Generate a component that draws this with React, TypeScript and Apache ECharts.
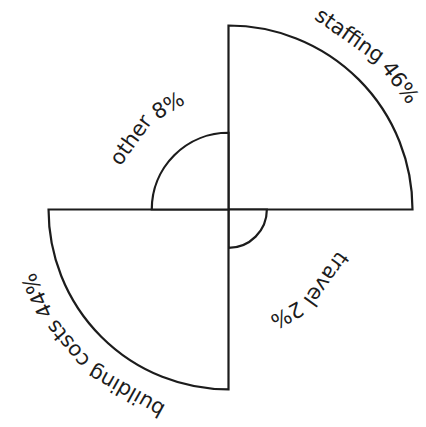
import React, { useEffect, useRef } from "react";
import * as echarts from "echarts";

const categories = ["staffing", "travel", "building costs", "other"];
const values = [46, 2, 44, 8];
const labels = ["staffing 46%", "travel 2%", "building costs 44%", "other 8%"];

const FONT_SIZE = 21;
const FONT = `${FONT_SIZE}px 'DejaVu Sans', sans-serif`;
const STROKE = "#1c1c1c";
const W = 426;
const H = 427;

function makeMeasurer() {
  const cv = document.createElement("canvas");
  const ctx = cv.getContext("2d")!;
  ctx.font = FONT;
  return (t: string) => ctx.measureText(t).width;
}

export default function App() {
  const ref = useRef<HTMLDivElement>(null);
  useEffect(() => {
    if (!ref.current) return;
    const chart = echarts.init(ref.current, null, { renderer: "svg" });
    const measure = makeMeasurer();
    const maxR = Math.sqrt(Math.max(...values));
    const option: any = {
      animation: false,
      backgroundColor: "#ffffff",
      polar: { center: [228.5, 209.5], radius: 184 },
      angleAxis: { type: "value", min: 0, max: 360, startAngle: 90, clockwise: true, show: false },
      radiusAxis: { type: "value", min: 0, max: maxR, show: false },
      series: [
        {
          type: "custom",
          coordinateSystem: "polar",
          data: values.map((v, i) => [v, i]),
          renderItem: (params: any, api: any) => {
            const v = api.value(0);
            const i = api.value(1);
            const c = api.coord([0, 0]);
            const e = api.coord([Math.sqrt(v), 0]);
            const r = Math.hypot(e[0] - c[0], e[1] - c[1]);
            const start = -Math.PI / 2 + (i * Math.PI) / 2;
            const end = start + Math.PI / 2;
            const mid = (start + end) / 2;
            const text = labels[i];
            const lr = Math.max(r + 30, 121);
            const words = text.split(" ");
            const spaceW = measure(" ");
            const totalW = measure(text);
            const span = totalW / lr;

            const layout = (shift: number) => {
              let pos = 0;
              return words.map((w) => {
                const ww = measure(w);
                const centerS = pos + ww / 2;
                pos += ww + spaceW;
                const ang = mid + shift - span / 2 + centerS / lr;
                const rr = lr - (ww * ww) / (24 * lr);
                const x = c[0] + rr * Math.cos(ang);
                const y = c[1] + rr * Math.sin(ang);
                const rot = -(ang + Math.PI / 2);
                const hx = (ww / 2) * Math.abs(Math.cos(rot)) + FONT_SIZE * 0.6 * Math.abs(Math.sin(rot));
                const hy = (ww / 2) * Math.abs(Math.sin(rot)) + FONT_SIZE * 0.6 * Math.abs(Math.cos(rot));
                const inside = x - hx >= 1 && x + hx <= W - 1 && y - hy >= 1 && y + hy <= H - 1;
                return { w, x, y, rot, inside };
              });
            };
            let placed = layout(0);
            for (let k = 1; k <= 16 && placed.some((p) => !p.inside); k++) {
              const d = (k * 0.5 * Math.PI) / 180;
              const a = layout(-d);
              if (a.every((p) => p.inside)) { placed = a; break; }
              const b = layout(d);
              if (b.every((p) => p.inside)) { placed = b; break; }
            }

            const children: any[] = [
              {
                type: "sector",
                shape: { cx: c[0], cy: c[1], r0: 0, r, startAngle: start, endAngle: end, clockwise: true },
                style: { fill: "#ffffff", stroke: STROKE, lineWidth: 2.2 },
              },
            ];
            placed.forEach((p) => {
              children.push({
                type: "text",
                x: p.x,
                y: p.y,
                rotation: p.rot,
                style: {
                  text: p.w,
                  fill: "#1c1c1c",
                  font: FONT,
                  align: "center",
                  verticalAlign: "middle",
                },
              });
            });
            return { type: "group", children };
          },
        },
      ],
    };
    chart.setOption(option);
    return () => chart.dispose();
  }, []);
  return (
    <div
      ref={ref}
      style={{ position: "fixed", left: 0, top: 0, width: W, height: H }}
      aria-label={categories.join(", ")}
    />
  );
}
